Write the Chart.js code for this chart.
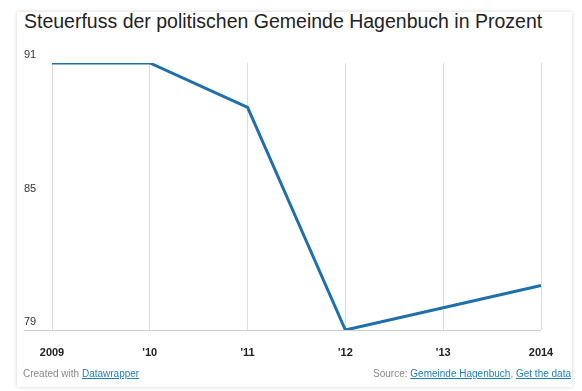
<!DOCTYPE html>
<html>
<head>
<meta charset="utf-8">
<script src="https://cdn.jsdelivr.net/npm/chart.js@4"></script>
<style>
  body { margin: 0; background: #fff; font-family: "Liberation Sans", Arial, sans-serif; }
  #card { position: absolute; left: 17px; top: 12px; width: 555px; height: 375px; background: #fff;
          box-shadow: 0 0 4px rgba(0,0,0,0.18); }
  #title { position: absolute; left: 24px; top: 10px; font-size: 19.5px; color: #222; white-space: nowrap; }
  #wrap { position: absolute; left: 0; top: 40px; width: 582px; height: 330px; }
  .foot { position: absolute; top: 368px; font-size: 10px; color: #888; white-space: nowrap; }
  .foot a { color: #1f7fb6; text-decoration: underline; }
</style>
</head>
<body>
<div id="card"></div>
<div id="title">Steuerfuss der politischen Gemeinde Hagenbuch in Prozent</div>
<div id="wrap"><canvas id="chart"></canvas></div>
<div class="foot" style="left:23px">Created with <a>Datawrapper</a></div>
<div class="foot" style="right:11px">Source: <a>Gemeinde Hagenbuch</a>, <a>Get the data</a></div>
<script>
  // Data
  const years = ['2009', '\'10', '\'11', '\'12', '\'13', '2014'];
  const taxRate = [91, 91, 89, 79, 80, 81];
  const yTicks = [79, 85, 91];

  new Chart(document.getElementById('chart'), {
    type: 'line',
    data: {
      labels: years,
      datasets: [{
        label: 'Steuerfuss',
        data: taxRate,
        borderColor: '#1f6fab',
        borderWidth: 3,
        pointRadius: 0,
        tension: 0,
        fill: false,
      }]
    },
    options: {
      responsive: true,
      maintainAspectRatio: false,
      animation: false,
      layout: { padding: { left: 24, right: 41, top: 23, bottom: 0 } },
      plugins: { legend: { display: false }, tooltip: { enabled: false } },
      scales: {
        x: {
          offset: false,
          border: { display: false },
          grid: { color: '#dcdcdc', drawTicks: false },
          ticks: { color: '#222', font: { family: 'Liberation Sans', size: 11, weight: 'bold' }, padding: 16, maxRotation: 0 },
          afterFit: s => { s.height = 40; }
        },
        y: {
          min: 79, max: 91,
          border: { display: false },
          afterBuildTicks: s => { s.ticks = yTicks.map(v => ({ value: v })); },
          afterFit: s => { s.width = 28; },
          grid: {
            color: ctx => ctx.tick && ctx.tick.value === 79 ? '#cfcfcf' : 'rgba(0,0,0,0)',
            tickLength: 28,
          },
          ticks: {
            color: '#333', crossAlign: 'far', padding: 0, labelOffset: -8,
            font: { family: 'Liberation Sans', size: 11 }
          }
        }
      }
    }
  });
</script>
</body>
</html>
